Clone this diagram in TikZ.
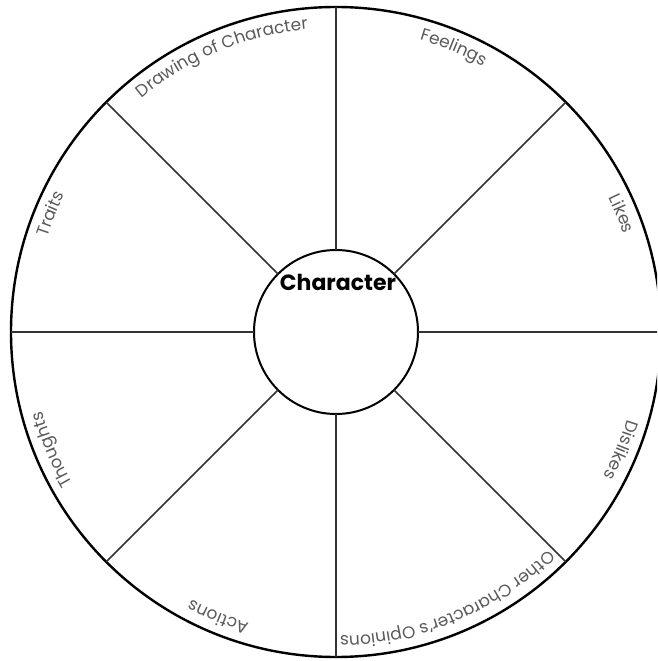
\documentclass[tikz,border=0pt]{standalone}
\usepackage{fontspec}
\setmainfont{Poppins}
\usetikzlibrary{decorations.text}
\definecolor{labelgray}{HTML}{5A5A5A}
\definecolor{spokegray}{HTML}{333333}
\newcommand\lblstyle{\fontsize{17}{17}\selectfont\color{labelgray}}
\newcommand\sectorlabel[2]{%
  \path[decorate, decoration={text along path, text align=center, text={|\lblstyle|#2}}]
    (#1+40:304) arc[start angle=#1+40, end angle=#1-40, radius=304];}
\tikzset{
  ring/.style={circle, draw=black, outer sep=0pt, inner sep=0pt},
  spoke/.style={draw=spokegray, line width=1.5pt},
}
\begin{document}
\begin{tikzpicture}[x=1pt,y=1pt]
  \useasboundingbox (-336,-329) rectangle (321,332);
  \clip (-336,-329) rectangle (321,332);
  \node[ring, line width=2.4pt, minimum size=650pt] (outer) at (0,0) {};
  \node[ring, line width=2pt, minimum size=164pt] (inner) at (0,0) {};
  \foreach \a in {0,45,...,315} {
    \draw[spoke] (inner.\a) -- (outer.\a);
  }
  \node[font=\bfseries\fontsize{22}{22}\selectfont] (title) at (2,50) {Character};
  \sectorlabel{112.5}{Drawing of Character}
  \sectorlabel{67.5}{Feelings}
  \sectorlabel{22.5}{Likes}
  \sectorlabel{-22.5}{Dislikes}
  \sectorlabel{-67.5}{Other Character's Opinions}
  \sectorlabel{-112.5}{Actions}
  \sectorlabel{-157.5}{Thoughts}
  \sectorlabel{157.5}{Traits}
\end{tikzpicture}
\end{document}
